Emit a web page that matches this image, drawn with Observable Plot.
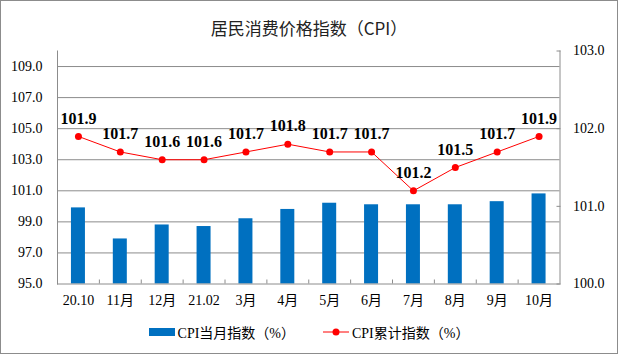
<!DOCTYPE html>
<html>
<head>
<meta charset="utf-8">
<script src="https://cdn.jsdelivr.net/npm/d3@7"></script>
<script src="https://cdn.jsdelivr.net/npm/@observablehq/plot@0.6"></script>
<style>
  html, body { margin: 0; padding: 0; background: #fff; }
  #wrap { position: relative; width: 618px; height: 354px; box-sizing: border-box; border: 1px solid #8c8c8c; background: #fff; overflow: hidden; }
  #title { height: 37px; box-sizing: border-box; padding-top: 18px; text-align: center; font-family: "Noto Sans CJK SC", "Liberation Serif", serif; font-size: 17px; line-height: 17px; color: #222; }
  #legend { height: 42px; display: flex; justify-content: center; align-items: center; gap: 28px; font-family: "Liberation Serif", "Noto Sans CJK SC", serif; font-size: 14px; color: #000; padding-top: 2px; box-sizing: border-box; }
  .item { display: flex; align-items: center; gap: 3px; }
  .sw { display: inline-block; width: 26px; height: 8px; background: #0070C0; }
  svg { display: block; }
</style>
</head>
<body>
<div id="wrap">
  <div id="title">居民消费价格指数（CPI）</div>
  <div id="chart"></div>
  <div id="legend">
    <span class="item"><span class="sw"></span><span>CPI当月指数（%）</span></span>
    <span class="item"><svg width="26" height="10"><line x1="0" y1="5" x2="26" y2="5" stroke="#FF0000" stroke-width="1"/><circle cx="13" cy="5" r="3.5" fill="#FF0000"/></svg><span>CPI累计指数（%）</span></span>
  </div>
</div>
<script>
const months = ["20.10", "11月", "12月", "21.02", "3月", "4月", "5月", "6月", "7月", "8月", "9月", "10月"];
const monthly = [99.9, 97.9, 98.8, 98.7, 99.2, 99.8, 100.2, 100.1, 100.1, 100.1, 100.3, 100.8];
const cumulative = [101.9, 101.7, 101.6, 101.6, 101.7, 101.8, 101.7, 101.7, 101.2, 101.5, 101.7, 101.9];
const leftTicks = [95, 97, 99, 101, 103, 105, 107, 109];
const rightTicks = [100, 101, 102, 103];

const leftDomain = [95, 110];
const rightDomain = [100, 103];
const k = (leftDomain[1] - leftDomain[0]) / (rightDomain[1] - rightDomain[0]);
const toLeft = v => leftDomain[0] + (v - rightDomain[0]) * k;
const fromLeft = v => rightDomain[0] + (v - leftDomain[0]) / k;

const data = months.map((m, i) => ({month: m, monthly: monthly[i], cum: cumulative[i]}));

const W = 616, H = 272, mL = 56, mR = 57.5, mT = 12.5, mB = 26.5;
const bw = (W - mL - mR) / months.length;
const pxPerUnit = (H - mT - mB) / (leftDomain[1] - leftDomain[0]);
const grid = "#8c8c8c";

const chart = Plot.plot({
  width: W, height: H,
  marginLeft: mL, marginRight: mR, marginTop: mT, marginBottom: mB,
  style: {fontFamily: "'Liberation Serif', 'Noto Sans CJK SC', serif", fontSize: "14px", color: "#000", background: "#fff"},
  x: {domain: months, paddingInner: 0, paddingOuter: 0, align: 0.5, round: false, axis: null, label: null},
  y: {domain: leftDomain, axis: null, label: null},
  marks: [
    Plot.gridY(leftTicks.slice(1), {stroke: grid, strokeOpacity: 1, strokeWidth: 1}),
    Plot.barY(data, {x: "month", y1: leftDomain[0], y2: "monthly", fill: "#0070C0", insetLeft: (bw - 14) / 2, insetRight: (bw - 14) / 2}),
    Plot.ruleY([leftDomain[0]], {stroke: grid, strokeWidth: 1}),
    Plot.frame({anchor: "left", stroke: grid}),
    Plot.frame({anchor: "right", stroke: grid}),
    Plot.ruleX(months.slice(1), {x: d => d, y1: leftDomain[0], y2: leftDomain[0] + 4 / pxPerUnit, dx: -bw / 2, stroke: grid}),
    Plot.axisY(leftTicks, {anchor: "left", label: null, tickSize: 0, tickPadding: 15, tickFormat: d => d.toFixed(1), fontSize: 14}),
    Plot.axisY(rightTicks.map(toLeft), {anchor: "right", label: null, tickSize: -4, tickPadding: 17, stroke: grid, tickFormat: d => fromLeft(d).toFixed(1), fontSize: 14}),
    Plot.axisX(months, {anchor: "bottom", label: null, tickSize: 0, tickPadding: 11, fontSize: 14}),
    Plot.line(data, {x: "month", y: d => toLeft(d.cum), stroke: "#FF0000", strokeWidth: 1}),
    Plot.dot(data, {x: "month", y: d => toLeft(d.cum), r: 3.5, fill: "#FF0000", stroke: "none"}),
    Plot.text(data, {x: "month", y: d => toLeft(d.cum), text: d => d.cum.toFixed(1), dy: -18, fontWeight: "bold", fontSize: 16, fill: "#000"})
  ]
});
document.getElementById("chart").appendChild(chart);
</script>
</body>
</html>
